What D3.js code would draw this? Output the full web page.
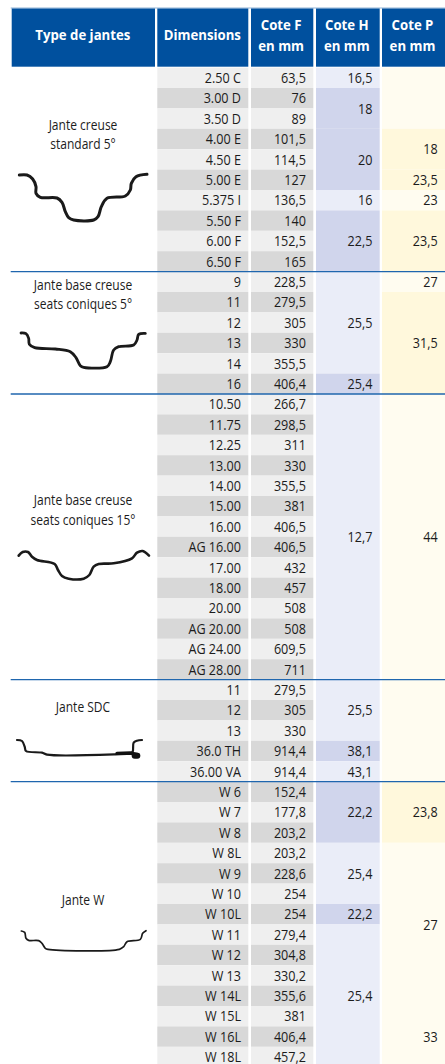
<!DOCTYPE html>
<html lang="fr">
<head>
<meta charset="utf-8">
<title>Type de jantes</title>
<script src="https://cdn.jsdelivr.net/npm/d3@7"></script>
<style>
  html, body { margin: 0; padding: 0; background: #fff; overflow: hidden; }
  svg { display: block; }
  text { font-family: "Open Sans", sans-serif; fill: #1c1c1c; }
</style>
</head>
<body>
<div id="chart"></div>
<script>
const dimensions = [
  "2.50 C", "3.00 D", "3.50 D", "4.00 E", "4.50 E", "5.00 E", "5.375 I", "5.50 F", "6.00 F", "6.50 F",
  "9", "11", "12", "13", "14", "16",
  "10.50", "11.75", "12.25", "13.00", "14.00", "15.00", "16.00", "AG 16.00", "17.00", "18.00", "20.00", "AG 20.00", "AG 24.00", "AG 28.00",
  "11", "12", "13", "36.0 TH", "36.00 VA",
  "W 6", "W 7", "W 8", "W 8L", "W 9", "W 10", "W 10L", "W 11", "W 12", "W 13", "W 14L", "W 15L", "W 16L", "W 18L"
];
const coteF = [
  "63,5", "76", "89", "101,5", "114,5", "127", "136,5", "140", "152,5", "165",
  "228,5", "279,5", "305", "330", "355,5", "406,4",
  "266,7", "298,5", "311", "330", "355,5", "381", "406,5", "406,5", "432", "457", "508", "508", "609,5", "711",
  "279,5", "305", "330", "914,4", "914,4",
  "152,4", "177,8", "203,2", "203,2", "228,6", "254", "254", "279,4", "304,8", "330,2", "355,6", "381", "406,4", "457,2"
];
// [first row, last row, label, strong tint]
const coteH = [
  [0, 0, "16,5", false], [1, 2, "18", true], [3, 5, "20", true], [6, 6, "16", false], [7, 9, "22,5", true],
  [10, 14, "25,5", false], [15, 15, "25,4", true],
  [16, 29, "12,7", false],
  [30, 32, "25,5", false], [33, 33, "38,1", true], [34, 34, "43,1", false],
  [35, 37, "22,2", true], [38, 40, "25,4", false], [41, 41, "22,2", true], [42, 48, "25,4", false]
];
const coteP = [
  [0, 2, "", false], [3, 4, "18", true], [5, 5, "23,5", true], [6, 6, "23", false], [7, 9, "23,5", true],
  [10, 10, "27", false], [11, 15, "31,5", true],
  [16, 29, "44", false],
  [30, 34, "", false],
  [35, 37, "23,8", true], [38, 45, "27", false], [46, 48, "33", false]
];
const groupEnds = [10, 16, 30, 35];
const rimNames = [
  ["Jante creuse", "standard 5°"],
  ["Jante base creuse", "seats coniques 5°"],
  ["Jante base creuse", "seats coniques 15°"],
  ["Jante SDC"],
  ["Jante W"]
];
const headers = [["Type de jantes"], ["Dimensions"], ["Cote F", "en mm"], ["Cote H", "en mm"], ["Cote P", "en mm"]];

// rim cross sections, traced in a 435 wide local box
const rimCreuse = [[22,30],[45,30],[62,42],[72,65],[72,85],[85,97],[135,99],[150,112],[160,140],[170,158],[185,165],[245,165],[258,155],[268,125],[285,100],[340,93],[355,75],[358,55],[372,35],[405,28]];
const rimConique5 = [[27,24],[42,26],[50,40],[52,58],[68,68],[130,72],[175,80],[192,98],[205,122],[215,127],[285,125],[295,110],[305,75],[320,65],[365,60],[375,45],[380,28],[400,25]];
const rimConique15 = [[20,47],[32,36],[48,36],[60,50],[75,60],[128,72],[138,90],[150,108],[170,116],[215,116],[232,105],[245,80],[260,72],[305,70],[360,55],[375,38],[392,33],[411,47]];
const rimSdc = [[15,30],[30,33],[38,50],[42,63],[90,68],[105,74],[310,73],[355,70],[362,65],[365,38],[375,32],[390,30]];
const rimSdcFlange = [[315,70],[355,69],[378,74]];
const rimSdcBead = [[368,77],[376,77]];
const rimW = [[28,18],[38,22],[42,40],[50,46],[80,47],[90,55],[100,70],[108,73],[322,73],[335,65],[345,50],[385,43],[392,25],[402,17]];

const width = 445, height = 1064;
const rowH = 20.4, tableTop = 67.6;
const cellSize = 14.5, cellSqueeze = 0.87;

const columns = [
  { x0: 11.7, x1: 155 },
  { x0: 157.3, x1: 248.3 },
  { x0: 251, x1: 313.3 },
  { x0: 316, x1: 379.7 },
  { x0: 382, x1: 445 }
];

const y = d3.scaleBand()
  .domain(d3.range(dimensions.length))
  .range([tableTop, tableTop + dimensions.length * rowH]);

const svg = d3.select("#chart").append("svg")
  .attr("width", width)
  .attr("height", height);

// condensed look: the original face is narrower than anything installed
function label(parent, str, x, baseline, anchor, size, weight, fill, squeeze) {
  return parent.append("text")
    .attr("transform", `translate(${x},${baseline}) scale(${squeeze},1)`)
    .attr("text-anchor", anchor)
    .style("font-size", size + "px")
    .style("font-weight", weight)
    .style("fill", fill)
    .text(str);
}

// header
svg.append("line")
  .attr("x1", 10.7).attr("x2", width).attr("y1", 8).attr("y2", 8)
  .attr("stroke", "#8fb2d6").attr("stroke-width", 1);

const headerCells = svg.append("g");
headers.forEach((lines, i) => {
  const col = columns[i];
  headerCells.append("rect")
    .attr("x", col.x0).attr("y", 8.5)
    .attr("width", col.x1 - col.x0).attr("height", 58.2)
    .attr("fill", "#00509e");
  const cx = (col.x0 + col.x1) / 2;
  if (lines.length === 1) {
    label(headerCells, lines[0], cx - 0.5, 40, "middle", 14.5, 700, "#fff", 0.91);
  } else {
    label(headerCells, lines[0], cx - 1, 30, "middle", 14.5, 700, "#fff", 0.91);
    label(headerCells, lines[1], cx - 1, 51, "middle", 14.5, 700, "#fff", 0.91);
  }
});

// dimension and cote F columns
[dimensions, coteF].forEach((values, c) => {
  const col = columns[c + 1];
  const g = svg.append("g");
  g.selectAll("rect")
    .data(values)
    .join("rect")
    .attr("x", col.x0)
    .attr("y", (d, i) => y(i))
    .attr("width", col.x1 - col.x0)
    .attr("height", y.bandwidth())
    .attr("fill", (d, i) => (i % 2 ? "#d8d8d8" : "#efefef"));
  values.forEach((v, i) => {
    label(g, v, col.x1 - 7.3, y(i) + y.bandwidth() / 2 + 5.2, "end", cellSize, 400, "#1c1c1c", cellSqueeze);
  });
});

// merged cote H and cote P cells
function spans(values, col, pale, strong) {
  const g = svg.append("g");
  g.selectAll("rect")
    .data(values)
    .join("rect")
    .attr("x", col.x0)
    .attr("y", (d) => y(d[0]))
    .attr("width", col.x1 - col.x0)
    .attr("height", (d) => y(d[1]) + y.bandwidth() - y(d[0]))
    .attr("fill", (d) => (d[3] ? strong : pale));
  values.forEach((d) => {
    const mid = (y(d[0]) + y(d[1]) + y.bandwidth()) / 2;
    label(g, d[2], col.x1 - 7.3, mid + 5.2, "end", cellSize, 400, "#1c1c1c", cellSqueeze);
  });
}
spans(coteH, columns[3], "#eaedf8", "#d0d5ec");
spans(coteP, columns[4], "#fffcf0", "#fff8dc");

// group separators
svg.append("g")
  .selectAll("line")
  .data(groupEnds)
  .join("line")
  .attr("x1", 10.7)
  .attr("x2", width)
  .attr("y1", (d) => y(d))
  .attr("y2", (d) => y(d))
  .attr("stroke", "#1f66ae")
  .attr("stroke-width", 1.4);

// rim names
const nameBaselines = [[130, 149], [290, 309], [505, 525], [712], [905]];
const names = svg.append("g");
rimNames.forEach((lines, i) => {
  lines.forEach((str, j) => {
    label(names, str, 83, nameBaselines[i][j], "middle", 14.5, 400, "#1c1c1c", 0.83);
  });
});

// rim profiles
const profile = d3.line().curve(d3.curveCatmullRom.alpha(0.5));
const rims = [
  { points: rimCreuse, x: 12, y: 165, w: 3 },
  { points: rimConique5, x: 12, y: 325, w: 2.8 },
  { points: rimConique15, x: 12, y: 540, w: 2.6 },
  { points: rimSdc, x: 12, y: 730, w: 2.2 },
  { points: rimW, x: 12, y: 925, w: 1.7 }
];
rims.forEach((r) => {
  const sx = d3.scaleLinear().domain([0, 435]).range([r.x, r.x + 145]);
  const sy = d3.scaleLinear().domain([0, 150]).range([r.y, r.y + 50]);
  const plain = d3.line().x((d) => sx(d[0])).y((d) => sy(d[1]));
  profile.x((d) => sx(d[0])).y((d) => sy(d[1]));
  svg.append("path")
    .datum(r.points)
    .attr("d", profile)
    .attr("fill", "none")
    .attr("stroke", "#1a1a1a")
    .attr("stroke-width", r.w)
    .attr("stroke-linecap", "round")
    .attr("stroke-linejoin", "round");
  if (r.points === rimSdc) {
    svg.append("path")
      .datum(rimSdcFlange)
      .attr("d", plain)
      .attr("fill", "none")
      .attr("stroke", "#111")
      .attr("stroke-width", 3.4)
      .attr("stroke-linecap", "round");
    svg.append("path")
      .datum(rimSdcBead)
      .attr("d", plain)
      .attr("stroke", "#111")
      .attr("stroke-width", 6)
      .attr("stroke-linecap", "round");
  }
});
</script>
</body>
</html>
